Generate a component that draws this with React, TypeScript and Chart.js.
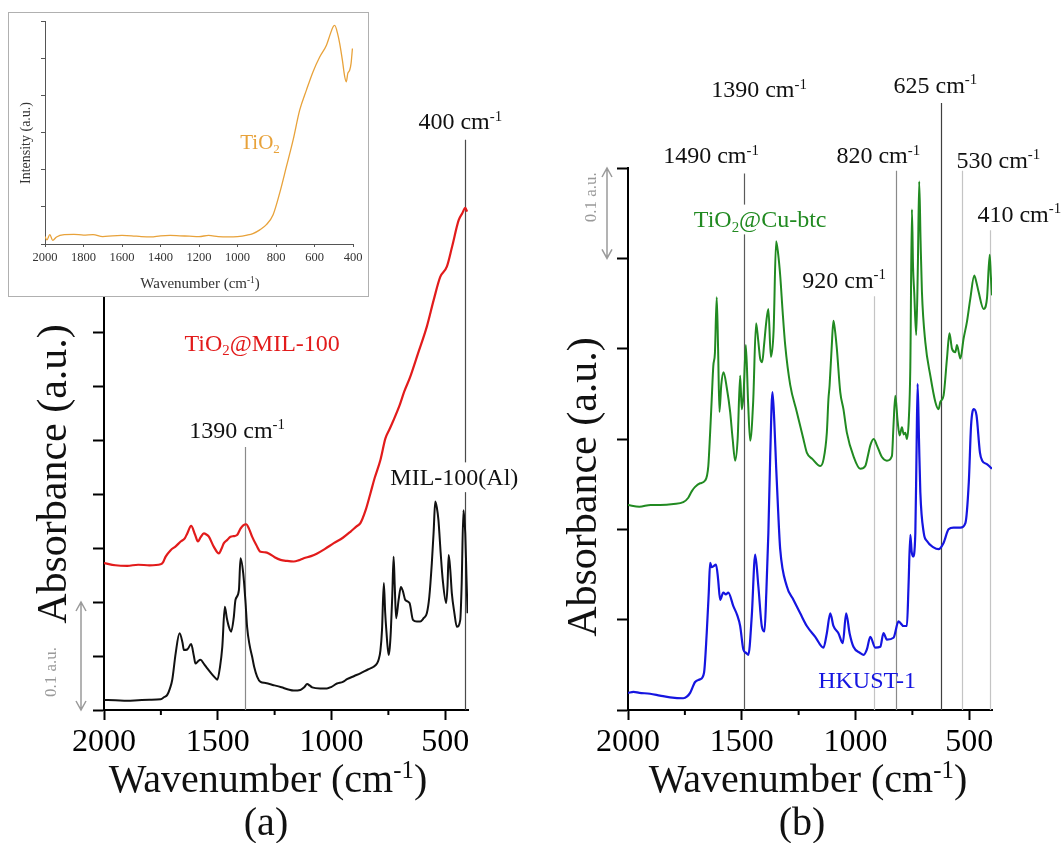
import React, { useEffect, useRef } from 'react';
import { Chart, registerables } from 'chart.js';

Chart.register(...registerables);

const SERIF = '"Liberation Serif", "Times New Roman", Times, serif';

// ---------------- Panel (a): offset absorbance, 1 unit = 0.05 a.u. ----------------
const MIL100_WN = [
  2000, 1950, 1898, 1850, 1800, 1751, 1735, 1722, 1710, 1700,
  1685, 1668, 1655, 1649, 1634, 1617, 1605, 1598, 1587, 1576,
  1560, 1546, 1525, 1510, 1502, 1490, 1480, 1469, 1460, 1451,
  1441, 1430, 1422, 1407, 1400, 1388, 1378, 1371, 1360, 1349,
  1340, 1327, 1312, 1290, 1254, 1220, 1190, 1166, 1137, 1120,
  1107, 1095, 1085, 1050, 1020, 1000, 976, 950, 932, 900,
  873, 840, 815, 800, 793, 785, 778, 770, 764, 759,
  749, 744, 739, 733, 727, 722, 716, 705, 695, 686,
  676, 657, 642, 625, 610, 595, 581, 570, 559, 551,
  544, 537, 530, 520, 511, 496, 490, 485, 478, 471,
  460, 449, 434, 428, 420, 416, 412, 407, 402,
];
const MIL100_ABS = [
  0.185, 0.18, 0.17, 0.18, 0.19, 0.2, 0.24, 0.28, 0.4, 0.56,
  1.05, 1.42, 1.25, 1.11, 1.12, 1.22, 1.0, 0.86, 0.9, 0.93,
  0.85, 0.77, 0.66, 0.59, 0.56, 0.8, 1.17, 1.91, 1.7, 1.54,
  1.45, 1.7, 2.04, 2.22, 2.81, 2.53, 2.0, 1.54, 1.2, 0.99,
  0.8, 0.62, 0.52, 0.5, 0.46, 0.42, 0.38, 0.36, 0.37, 0.42,
  0.48, 0.45, 0.42, 0.4, 0.4, 0.43, 0.49, 0.52, 0.57, 0.63,
  0.68, 0.75, 0.8, 0.86, 0.93, 1.1, 1.48, 2.35, 1.8, 1.48,
  1.02, 1.15, 1.48, 2.1, 2.84, 2.3, 1.7, 2.04, 2.28, 2.2,
  2.04, 1.98, 1.67, 1.64, 1.64, 1.7, 1.79, 2.1, 2.72, 3.3,
  3.86, 3.75, 3.52, 2.9, 2.41, 1.98, 2.3, 2.87, 2.6, 2.16,
  1.8, 1.54, 1.67, 2.3, 3.7, 3.5, 3.27, 2.5, 1.79,
];
const TIO2_MIL100_WN = [
  2000, 1950, 1898, 1850, 1800, 1751, 1740, 1729, 1707, 1685,
  1663, 1645, 1634, 1617, 1600, 1587, 1575, 1561, 1550, 1539,
  1517, 1495, 1484, 1473, 1458, 1444, 1430, 1415, 1400, 1388,
  1375, 1362, 1349, 1330, 1312, 1290, 1276, 1250, 1224, 1195,
  1166, 1145, 1122, 1090, 1063, 1030, 990, 950, 917, 890,
  873, 850, 829, 810, 785, 763, 745, 727, 700, 680,
  654, 620, 581, 551, 522, 493, 470, 441, 425, 412,
  404,
];
const TIO2_MIL100_ABS = [
  2.72, 2.68, 2.67, 2.69, 2.68, 2.7, 2.74, 2.84, 2.96, 3.03,
  3.12, 3.18, 3.27, 3.41, 3.25, 3.12, 3.2, 3.27, 3.25, 3.21,
  3.02, 2.9, 2.98, 3.09, 3.15, 3.21, 3.22, 3.24, 3.36, 3.42,
  3.44, 3.35, 3.21, 3.05, 2.93, 2.92, 2.9, 2.83, 2.78, 2.76,
  2.75, 2.77, 2.81, 2.85, 2.9, 2.98, 3.09, 3.19, 3.3, 3.4,
  3.46, 3.7, 4.01, 4.3, 4.63, 5.03, 5.2, 5.37, 5.65, 5.9,
  6.17, 6.6, 7.1, 7.59, 8.02, 8.21, 8.58, 9.07, 9.2, 9.3,
  9.23,
];

// ---------------- Inset: TiO2 intensity (arbitrary units) ----------------
const TIO2_WN = [
  2000, 1990, 1975, 1960, 1940, 1900, 1850, 1800, 1750, 1700,
  1650, 1600, 1550, 1500, 1450, 1400, 1350, 1300, 1250, 1200,
  1150, 1100, 1050, 1000, 950, 920, 884, 850, 815, 781,
  746, 711, 677, 642, 608, 573, 538, 520, 504, 495,
  480, 469, 455, 443, 435, 427, 417, 410, 403,
];
const TIO2_INT = [
  0.2, 0.11, 0.25, 0.1, 0.19, 0.25, 0.26, 0.24, 0.25, 0.2,
  0.22, 0.23, 0.22, 0.2, 0.19, 0.22, 0.23, 0.22, 0.21, 0.2,
  0.23, 0.2, 0.19, 0.2, 0.24, 0.28, 0.38, 0.52, 0.79, 1.37,
  2.08, 2.8, 3.6, 4.14, 4.63, 5.03, 5.35, 5.62, 5.84, 5.88,
  5.66, 5.39, 4.94, 4.5, 4.36, 4.59, 4.68, 4.86, 5.26,
];

// ---------------- Panel (b): offset absorbance, 1 unit = 0.1 a.u. ----------------
const CUBTC_WN = [
  2000, 1950, 1900, 1859, 1800, 1757, 1735, 1720, 1705, 1683,
  1661, 1647, 1639, 1632, 1625, 1618, 1610, 1604, 1598, 1590,
  1580, 1566, 1551, 1540, 1529, 1518, 1507, 1500, 1492, 1482,
  1472, 1463, 1450, 1437, 1428, 1419, 1410, 1402, 1392, 1383,
  1372, 1360, 1349, 1340, 1331, 1320, 1309, 1287, 1258, 1229,
  1214, 1190, 1155, 1140, 1126, 1119, 1114, 1105, 1097, 1090,
  1082, 1067, 1053, 1038, 1009, 979, 957, 945, 935, 920,
  906, 884, 862, 840, 833, 825, 815, 806, 796, 788,
  781, 774, 766, 759, 752, 747, 742, 733, 726, 720,
  714, 708, 693, 671, 649, 635, 627, 613, 598, 587,
  576, 561, 554, 539, 525, 510, 495, 478, 470, 459,
  437, 422, 410, 405, 400,
];
const CUBTC_ABS = [
  2.27, 2.25, 2.27, 2.27, 2.28, 2.3, 2.35, 2.42, 2.47, 2.51,
  2.54, 2.7, 3.07, 3.44, 3.81, 3.95, 4.57, 4.0, 3.3, 3.6,
  3.74, 3.57, 3.3, 3.0, 2.76, 3.0, 3.7, 3.33, 3.5, 4.04,
  3.4, 2.98, 3.4, 4.28, 4.1, 3.89, 3.85, 4.04, 4.3, 4.44,
  3.91, 4.2, 5.19, 5.05, 4.81, 4.4, 4.04, 3.6, 3.3, 3.0,
  2.85, 2.78, 2.7, 2.78, 3.07, 3.44, 3.59, 4.0, 4.31, 4.2,
  4.0, 3.52, 3.33, 3.07, 2.81, 2.67, 2.7, 2.82, 2.93, 3.0,
  2.93, 2.8, 2.76, 2.81, 3.15, 3.48, 3.2, 3.04, 3.13, 3.05,
  3.07, 3.0, 3.2, 3.8, 5.54, 4.9, 4.63, 4.15, 4.9, 5.85,
  5.2, 4.63, 4.07, 3.7, 3.41, 3.33, 3.41, 3.48, 3.89, 4.17,
  4.0, 3.96, 4.04, 3.89, 4.11, 4.3, 4.56, 4.81, 4.75, 4.63,
  4.44, 4.56, 5.04, 4.8, 4.59,
];
const HKUST_WN = [
  2000, 1976, 1950, 1903, 1860, 1815, 1757, 1740, 1727, 1705,
  1683, 1666, 1654, 1645, 1639, 1632, 1625, 1613, 1604, 1595,
  1581, 1570, 1559, 1537, 1520, 1507, 1493, 1480, 1471, 1456,
  1441, 1427, 1412, 1400, 1392, 1383, 1375, 1365, 1357, 1349,
  1340, 1331, 1302, 1273, 1243, 1214, 1177, 1141, 1126, 1111,
  1097, 1075, 1056, 1041, 1026, 1009, 979, 964, 950, 935,
  913, 891, 877, 862, 833, 811, 789, 774, 767, 759,
  753, 747, 737, 732, 727, 721, 715, 700, 686, 657,
  635, 613, 591, 569, 539, 517, 502, 492, 480, 468,
  453, 443, 421, 400,
];
const HKUST_ABS = [
  0.19, 0.2, 0.19, 0.18, 0.16, 0.14, 0.13, 0.15, 0.19, 0.31,
  0.34, 0.41, 0.85, 1.3, 1.63, 1.58, 1.59, 1.61, 1.45, 1.22,
  1.3, 1.28, 1.3, 1.15, 1.05, 0.93, 0.67, 0.63, 0.61, 1.04,
  1.72, 1.37, 0.93, 0.87, 1.3, 1.96, 2.8, 3.52, 3.2, 2.7,
  2.2, 1.78, 1.37, 1.22, 1.07, 0.93, 0.81, 0.69, 0.85, 1.07,
  0.93, 0.85, 0.74, 1.07, 0.85, 0.7, 0.63, 0.61, 0.67, 0.81,
  0.69, 0.7, 0.85, 0.78, 0.8, 0.98, 0.93, 0.93, 1.37, 1.94,
  1.75, 1.7, 1.96, 2.8, 3.61, 3.0, 2.41, 1.96, 1.87, 1.8,
  1.78, 1.85, 2.0, 2.02, 2.02, 2.07, 2.52, 3.15, 3.33, 3.26,
  2.85, 2.76, 2.72, 2.67,
];

// ---------------- Ticks ----------------
const X_MAJOR_TICKS = [2000, 1500, 1000, 500];
const X_MINOR_TICKS = [1750, 1250, 750];
const INSET_X_TICKS = [2000, 1800, 1600, 1400, 1200, 1000, 800, 600, 400];

// ---------------- Annotations (wavenumber / y in data units) ----------------
const A_MARKERS = [
  { wn: 1380, top: 4.87, color: '#8a8a8a' },
  { wn: 412, top: 10.56, color: '#4a4a4a' },
];
const A_LABELS = [
  { text: 'TiO_{2}@MIL-100', wn: 1305, y: 6.8, color: '#e21b1b' },
  { text: '1390 cm^{-1}', wn: 1415, y: 5.19, color: '#111' },
  { text: 'MIL-100(Al)', wn: 460, y: 4.31, color: '#111', bg: true },
  { text: '400 cm^{-1}', wn: 434, y: 10.9, color: '#111' },
];
const B_MARKERS = [
  { wn: 1490, top: 5.94, color: '#5a5a5a' },
  { wn: 820, top: 5.97, color: '#8a8a8a' },
  { wn: 625, top: 6.72, color: '#404040' },
  { wn: 530, top: 5.97, color: '#c4c4c4' },
  { wn: 410, top: 5.31, color: '#c4c4c4' },
  { wn: 920, top: 4.58, color: '#c4c4c4' },
];
const B_LABELS = [
  { text: '1390 cm^{-1}', wn: 1424, y: 6.87, color: '#111' },
  { text: '625 cm^{-1}', wn: 649, y: 6.92, color: '#111' },
  { text: '1490 cm^{-1}', wn: 1635, y: 6.14, color: '#111' },
  { text: '820 cm^{-1}', wn: 900, y: 6.14, color: '#111' },
  { text: '530 cm^{-1}', wn: 372, y: 6.09, color: '#111' },
  { text: '410 cm^{-1}', wn: 280, y: 5.49, color: '#111' },
  { text: '920 cm^{-1}', wn: 1050, y: 4.76, color: '#111' },
  { text: 'TiO_{2}@Cu-btc', wn: 1419, y: 5.43, color: '#218a21', bg: true },
  { text: 'HKUST-1', wn: 949, y: 0.33, color: '#1515e0' },
];
const INSET_LABELS = [{ text: 'TiO_{2}', wn: 883, y: 2.74, color: '#e8a23a' }];

// ---------------- Rich text ----------------
function parseRich(s: string) {
  const parts: { t: string; m: string }[] = [];
  const re = /(\^\{([^}]*)\}|_\{([^}]*)\})/g;
  let last = 0;
  let m: RegExpExecArray | null;
  while ((m = re.exec(s))) {
    if (m.index > last) parts.push({ t: s.slice(last, m.index), m: 'n' });
    if (m[2] !== undefined) parts.push({ t: m[2], m: 'sup' });
    else parts.push({ t: m[3], m: 'sub' });
    last = re.lastIndex;
  }
  if (last < s.length) parts.push({ t: s.slice(last), m: 'n' });
  return parts;
}

function drawRich(ctx: CanvasRenderingContext2D, text: string, x: number, y: number, size: number, color: string, rotate = false, bg = false) {
  const parts = parseRich(text);
  const small = size * 0.62;
  ctx.save();
  ctx.translate(x, y);
  if (rotate) ctx.rotate(-Math.PI / 2);
  ctx.textAlign = 'left';
  ctx.textBaseline = 'alphabetic';
  const widths = parts.map((p) => {
    ctx.font = `${p.m === 'n' ? size : small}px ${SERIF}`;
    return ctx.measureText(p.t).width;
  });
  const total = widths.reduce((a, b) => a + b, 0);
  if (bg) {
    ctx.fillStyle = '#ffffff';
    ctx.fillRect(-total / 2 - 4, -size * 0.62, total + 8, size * 1.24);
  }
  let cx = -total / 2;
  const base = size * 0.33;
  ctx.fillStyle = color;
  parts.forEach((p, i) => {
    ctx.font = `${p.m === 'n' ? size : small}px ${SERIF}`;
    const dy = p.m === 'sup' ? -size * 0.36 : p.m === 'sub' ? size * 0.18 : 0;
    ctx.fillText(p.t, cx, base + dy);
    cx += widths[i];
  });
  ctx.restore();
}

// ---------------- Panel specs ----------------
type Spec = any;

const PANEL_A: Spec = {
  left: 0, top: 0, width: 530, height: 843,
  area: { left: 104, right: 468, top: 170, bottom: 710 },
  yMax: 10,
  series: [
    { wn: MIL100_WN, v: MIL100_ABS, color: '#111111', width: 2 },
    { wn: TIO2_MIL100_WN, v: TIO2_MIL100_ABS, color: '#e21b1b', width: 2.2 },
  ],
  xTicks: X_MAJOR_TICKS, xMinor: X_MINOR_TICKS,
  tickFont: 32, tickLen: 10, minorLen: 5, tickPad: 3, axisColor: '#000', axisWidth: 2, tickColor: '#000',
  markers: A_MARKERS, labels: A_LABELS, labelSize: 24,
  titles: [
    { text: 'Wavenumber (cm^{-1})', x: 268, y: 779, size: 40 },
    { text: '(a)', x: 266, y: 822, size: 40 },
    { text: 'Absorbance (a.u.)', x: 52, y: 474, size: 42, rotate: true },
  ],
  scaleBar: { from: 0, to: 2, dx: 23, label: '0.1 a.u.', labelDx: -31, labelDy: 16, size: 17 },
};

const PANEL_B: Spec = {
  left: 530, top: 0, width: 531, height: 843,
  area: { left: 628, right: 992, top: 168, bottom: 710 },
  yMax: 6,
  series: [
    { wn: CUBTC_WN, v: CUBTC_ABS, color: '#218a21', width: 2 },
    { wn: HKUST_WN, v: HKUST_ABS, color: '#1515e0', width: 2.2 },
  ],
  xTicks: X_MAJOR_TICKS, xMinor: X_MINOR_TICKS,
  tickFont: 32, tickLen: 10, minorLen: 5, tickPad: 3, axisColor: '#000', axisWidth: 2, tickColor: '#000',
  markers: B_MARKERS, labels: B_LABELS, labelSize: 24,
  titles: [
    { text: 'Wavenumber (cm^{-1})', x: 808, y: 779, size: 40 },
    { text: '(b)', x: 802, y: 822, size: 40 },
    { text: 'Absorbance (a.u.)', x: 582, y: 487, size: 42, rotate: true },
  ],
  scaleBar: { from: 5, to: 6, dx: 21, label: '0.1 a.u.', labelDx: -17, labelDy: -16, size: 17 },
};

const INSET: Spec = {
  left: 9, top: 13, width: 359, height: 283,
  area: { left: 45, right: 353, top: 21, bottom: 244 },
  yMax: 6,
  series: [{ wn: TIO2_WN, v: TIO2_INT, color: '#e8a23a', width: 1.3 }],
  xTicks: INSET_X_TICKS, xMinor: [],
  tickFont: 12.5, tickLen: 3, minorLen: 0, tickPad: 3, axisColor: '#555', axisWidth: 1, tickColor: '#333',
  markers: [], labels: INSET_LABELS, labelSize: 21,
  titles: [
    { text: 'Wavenumber (cm^{-1})', x: 200, y: 283, size: 15, color: '#333' },
    { text: 'Intensity (a.u.)', x: 25, y: 143, size: 14, color: '#333', rotate: true },
  ],
  scaleBar: null,
};

function buildChart(canvas: HTMLCanvasElement, spec: Spec) {
  const a = spec.area;
  const decor = {
    id: 'decor',
    beforeDatasetsDraw(chart: any) {
      const ctx = chart.ctx as CanvasRenderingContext2D;
      const xs = chart.scales.x;
      const ys = chart.scales.y;
      ctx.save();
      spec.markers.forEach((mk: any) => {
        const x = Math.round(xs.getPixelForValue(mk.wn)) + 0.5;
        ctx.strokeStyle = mk.color;
        ctx.lineWidth = 1.2;
        ctx.beginPath();
        ctx.moveTo(x, ys.getPixelForValue(mk.top));
        ctx.lineTo(x, chart.chartArea.bottom);
        ctx.stroke();
      });
      ctx.restore();
    },
    afterDatasetsDraw(chart: any) {
      const ctx = chart.ctx as CanvasRenderingContext2D;
      const xs = chart.scales.x;
      const ys = chart.scales.y;
      const ca = chart.chartArea;
      ctx.save();
      ctx.strokeStyle = spec.axisColor;
      ctx.lineWidth = spec.axisWidth;
      spec.xMinor.forEach((v: number) => {
        const x = xs.getPixelForValue(v);
        ctx.beginPath();
        ctx.moveTo(x, ca.bottom);
        ctx.lineTo(x, ca.bottom + spec.minorLen);
        ctx.stroke();
      });
      spec.labels.forEach((lb: any) => {
        drawRich(ctx, lb.text, xs.getPixelForValue(lb.wn), ys.getPixelForValue(lb.y), spec.labelSize, lb.color, false, !!lb.bg);
      });
      spec.titles.forEach((t: any) => {
        drawRich(ctx, t.text, t.x - spec.left, t.y - spec.top, t.size, t.color || '#111', !!t.rotate);
      });
      const sb = spec.scaleBar;
      if (sb) {
        const x = ca.left - sb.dx;
        const y1 = ys.getPixelForValue(sb.from);
        const y2 = ys.getPixelForValue(sb.to);
        ctx.strokeStyle = '#9a9a9a';
        ctx.lineWidth = 1.5;
        ctx.beginPath();
        ctx.moveTo(x, y1);
        ctx.lineTo(x, y2);
        ctx.moveTo(x - 5, y2 + 9);
        ctx.lineTo(x, y2);
        ctx.lineTo(x + 5, y2 + 9);
        ctx.moveTo(x - 5, y1 - 9);
        ctx.lineTo(x, y1);
        ctx.lineTo(x + 5, y1 - 9);
        ctx.stroke();
        drawRich(ctx, sb.label, x + sb.labelDx, (y1 + y2) / 2 + sb.labelDy, sb.size, '#9a9a9a', true);
      }
      ctx.restore();
    },
  };

  return new Chart(canvas, {
    type: 'line',
    data: {
      datasets: spec.series.map((s: any) => ({
        data: s.wn.map((x: number, i: number) => ({ x, y: s.v[i] })),
        borderColor: s.color,
        borderWidth: s.width,
        pointRadius: 0,
        cubicInterpolationMode: 'monotone',
        fill: false,
        borderJoinStyle: 'round',
      })),
    },
    options: {
      animation: false,
      responsive: false,
      maintainAspectRatio: false,
      events: [],
      layout: {
        padding: {
          top: a.top - spec.top,
          right: spec.left + spec.width - a.right,
          bottom: 0,
          left: 0,
        },
      },
      plugins: { legend: { display: false }, tooltip: { enabled: false }, title: { display: false } },
      scales: {
        x: {
          type: 'linear',
          reverse: true,
          min: 400,
          max: 2000,
          afterBuildTicks: (s: any) => { s.ticks = spec.xTicks.map((v: number) => ({ value: v })); },
          afterFit: (s: any) => { s.height = spec.top + spec.height - a.bottom; },
          border: { display: true, color: spec.axisColor, width: spec.axisWidth },
          grid: { display: true, drawOnChartArea: false, drawTicks: true, tickLength: spec.tickLen, tickColor: spec.axisColor, tickWidth: spec.axisWidth },
          ticks: {
            display: true, autoSkip: false, maxRotation: 0, minRotation: 0,
            padding: spec.tickPad, color: spec.tickColor,
            font: { family: SERIF, size: spec.tickFont },
            callback: (v: any) => String(v),
          },
        },
        y: {
          type: 'linear',
          min: 0,
          max: spec.yMax,
          ticks: { display: false, stepSize: 1 },
          afterFit: (s: any) => { s.width = a.left - spec.left; },
          border: { display: true, color: spec.axisColor, width: spec.axisWidth },
          grid: { display: true, drawOnChartArea: false, drawTicks: true, tickLength: spec.tickLen + 1, tickColor: spec.axisColor, tickWidth: spec.axisWidth },
        },
      },
    } as any,
    plugins: [decor],
  });
}

function ChartCanvas({ spec, z }: { spec: Spec; z: number }) {
  const ref = useRef<HTMLCanvasElement>(null);
  useEffect(() => {
    if (!ref.current) return;
    const chart = buildChart(ref.current, spec);
    return () => chart.destroy();
  }, [spec]);
  return (
    <canvas
      ref={ref}
      width={spec.width}
      height={spec.height}
      style={{ position: 'absolute', left: spec.left, top: spec.top, width: spec.width, height: spec.height, zIndex: z }}
    />
  );
}

export default function App() {
  return (
    <div style={{ position: 'fixed', left: 0, top: 0, width: 1061, height: 843, background: '#fff', overflow: 'hidden' }}>
      <ChartCanvas spec={PANEL_A} z={1} />
      <ChartCanvas spec={PANEL_B} z={1} />
      <div
        style={{
          position: 'absolute', left: 8, top: 12, width: 361, height: 285,
          border: '1px solid #b0b0b0', boxSizing: 'border-box', background: '#fff', zIndex: 2,
        }}
      />
      <ChartCanvas spec={INSET} z={3} />
    </div>
  );
}
